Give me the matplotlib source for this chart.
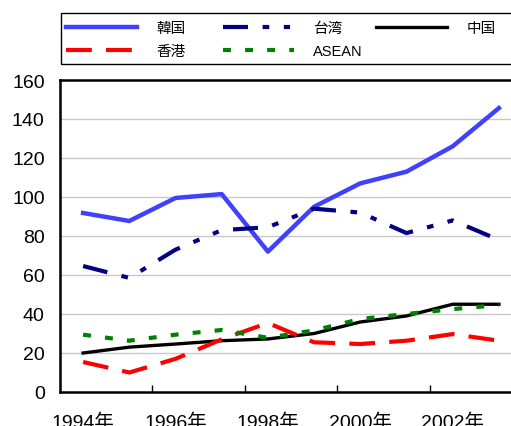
import matplotlib
matplotlib.use('Agg')
from matplotlib import pyplot as plt
from matplotlib.patches import Rectangle

plt.rcParams['font.family'] = ['Liberation Sans', 'Noto Sans CJK JP']

years = ['1994年', '1995年', '1996年', '1997年', '1998年',
         '1999年', '2000年', '2001年', '2002年', '2003年']
korea = [91.8, 87.7, 99.5, 101.5, 72, 95, 107, 113, 126, 145.6]
taiwan = [64.6, 58.5, 73, 83, 84.5, 94, 92, 81.5, 88, 78]
china = [20, 23, 24.6, 26.3, 27.2, 30, 35.9, 39, 45, 45]
hongkong = [15.4, 10, 17, 27, 35.4, 25.5, 24.6, 26.3, 29.7, 26.3]
asean = [29.4, 26.3, 29.4, 31.8, 27.8, 31.6, 37.4, 40, 42.5, 44.6]

x = list(range(len(years)))
W, H = 511, 427

fig = plt.figure(figsize=(W / 100, H / 100), dpi=100)
# plot area runs past the right edge of the picture
ax = fig.add_axes([60 / W, 34 / H, 462 / W, 312 / H])

# gridlines
for v in range(20, 160, 20):
    ax.axhline(v, color='#c8c8c8', linewidth=1.0, zorder=0)

ax.plot(x, korea, color='#4040ff', linewidth=3.2, label='韓国', zorder=3)
ax.plot(x, taiwan, color='#000080', linewidth=3.0, dashes=(6, 3.5, 1.6, 3.5, 1.5, 3.5), label='台湾', zorder=3)
ax.plot(x, china, color='black', linewidth=2.4, label='中国', zorder=3)
ax.plot(x, hongkong, color='red', linewidth=3.0, dashes=(6.2, 3.4), label='香港', zorder=3)
ax.plot(x, asean, color='green', linewidth=3.0, dashes=(1.9, 3.4), label='ASEAN', zorder=3)

ax.set_xlim(-0.5, 9.5)
ax.set_ylim(0, 160)
ax.set_yticks(range(0, 161, 20))
ax.tick_params(axis='y', length=0, labelsize=14, pad=11)

# ticks on category boundaries, labels at category centres
ax.set_xticks([1.5, 3.5, 5.5, 7.5])
ax.set_xticklabels([])
ax.tick_params(axis='x', which='major', direction='in', length=5, width=1)
ax.set_xticks(x[::2], minor=True)
ax.set_xticklabels(years[::2], minor=True)
ax.tick_params(axis='x', which='minor', length=0, labelsize=14, pad=15)

for s in ax.spines.values():
    s.set_linewidth(1.8)

# legend: three columns placed by hand, one frame round them
h, l = ax.get_legend_handles_labels()
columns = [([0, 3], 66), ([1, 4], 223), ([2], 376)]
for idx, xpx in columns:
    fig.legend([h[i] for i in idx], [l[i] for i in idx],
               loc='upper left', bbox_to_anchor=(xpx / W, 1 - 22 / H),
               frameon=False, fontsize=10.5, borderpad=0, borderaxespad=0,
               handlelength=4.9, handletextpad=1.3, labelspacing=0.62)
fig.patches.append(Rectangle((61 / W, 1 - 65 / H), 470 / W, 51 / H,
                             transform=fig.transFigure, fill=False,
                             edgecolor='black', linewidth=1.0))

fig.savefig('out.png', dpi=100)
